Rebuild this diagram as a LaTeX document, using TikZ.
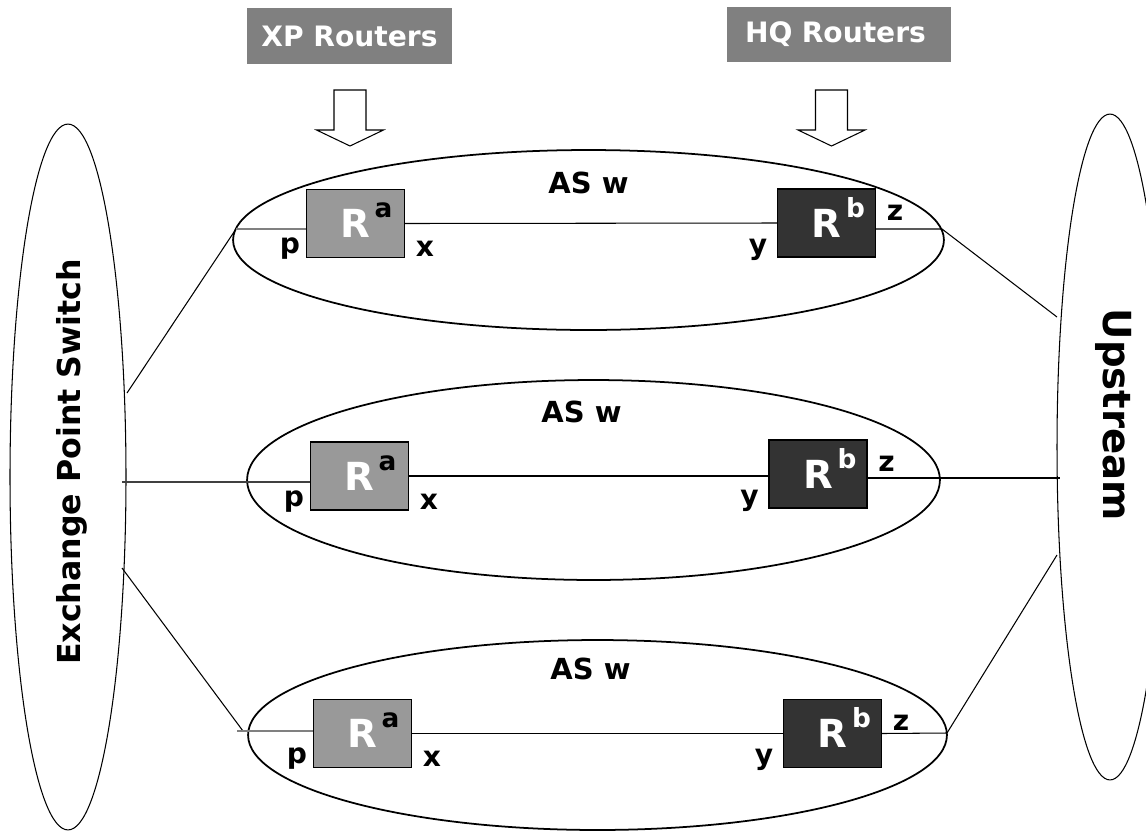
\documentclass[tikz,border=0pt]{standalone}
\usepackage{fontspec}
\setmainfont{DejaVu Sans}
\usepackage{xcolor}
\usepackage{tikz}
\usetikzlibrary{positioning, calc, shapes.geometric}

\definecolor{titlegray}{HTML}{808080}
\definecolor{ragray}{HTML}{999999}
\definecolor{rbgray}{HTML}{333333}

\tikzset{
  titlebox/.style={fill=titlegray, text=white, font=\fontsize{16}{16}\selectfont\bfseries,
    minimum height=1.12cm, inner sep=0pt},
  asell/.style={draw, line width=1pt, ellipse, inner sep=0pt},
  sideell/.style={draw, semithick, ellipse, inner sep=0pt},
  rabox/.style={draw, semithick, fill=ragray, text=white, minimum width=1.96cm,
    minimum height=1.36cm, inner sep=0pt, font=\fontsize{22}{22}\selectfont\bfseries},
  rbbox/.style={rabox, fill=rbgray},
  sup/.style={anchor=base, inner sep=0pt, font=\fontsize{15}{15}\selectfont\bfseries},
  port/.style={inner sep=0pt, font=\fontsize{16}{16}\selectfont\bfseries},
  aslabel/.style={inner sep=0pt, font=\fontsize{16.5}{16.5}\selectfont\bfseries},
  sidelabel/.style={inner sep=0pt, font=\fontsize{18}{18}\selectfont\bfseries},
  link/.style={draw, line width=0.6pt},
  plink/.style={draw=titlegray, line width=0.8pt}
}

\begin{document}
\begin{tikzpicture}[x=0.02cm, y=-0.02cm]
  \useasboundingbox (0,0) rectangle (1146,839);
  \clip (0,0) rectangle (1146,839);

  % router group titles and their arrows
  \node[titlebox, minimum width=4.1cm] (xp) at (349.5,36) {XP Routers};
  \node[titlebox, text width=3.76cm, align=left, inner xsep=0.36cm]
    (hq) at (839,34.5) {HQ Routers};
  \foreach \ax in {350,831.5}
    \draw[fill=white, line width=0.6pt] (\ax-16,90) -- (\ax+16,90) -- (\ax+16,130)
      -- (\ax+33.5,130) -- (\ax,146) -- (\ax-33.5,130) -- (\ax-16,130) -- cycle;

  % exchange point and upstream
  \node[sideell, minimum width=2.32cm, minimum height=14.12cm] (xps) at (68,477) {};
  \node[sidelabel, rotate=90] (xpstext) at (72,462) {Exchange Point Switch};
  \node[sideell, minimum width=2.12cm, minimum height=13.32cm] (ups) at (1110,447) {};
  \node[sidelabel, rotate=-90, font=\fontsize{22}{22}\selectfont\bfseries] (upstext)
    at (1114,415) {Upstream};

  % the three AS ellipses
  \node[asell, minimum width=14.22cm, minimum height=3.6cm] (as1) at (588.5,240) {};
  \node[asell, minimum width=13.86cm, minimum height=4.0cm] (as2) at (593.5,480) {};
  \node[asell, minimum width=13.98cm, minimum height=3.8cm] (as3) at (597.5,735) {};
  \node[aslabel, below=0.44cm of as1.north] (asw1) {AS w};
  \node[aslabel, below=0.42cm of as2.north, xshift=-0.24cm] (asw2) {AS w};
  \node[aslabel, below=0.36cm of as3.north, xshift=-0.14cm] (asw3) {AS w};

  % routers
  \node[rabox] (ra1) at (355.5,223.5) {R};
  \node[rbbox] (rb1) at (826.5,223) {R};
  \node[rabox] (ra2) at (359.5,476) {R};
  \node[rbbox] (rb2) at (818,474) {R};
  \node[rabox] (ra3) at (362.5,733.5) {R};
  \node[rbbox] (rb3) at (832.5,733.5) {R};
  \foreach \r in {1,2,3} {
    \node[sup] at ($(ra\r)+(28,-6)$) {a};
    \node[sup, text=white] at ($(rb\r)+(29,-6)$) {b};
    \node[port] at ($(ra\r.south west)+(-16,-9)$) {p};
    \node[port] at ($(ra\r.south east)+(20,-9)$) {x};
    \node[port] at ($(rb\r.south west)+(-19,-8)$) {y};
    \node[port] at ($(rb\r.north east)+(19,24)$) {z};
  }

  % top row links
  \coordinate (xa1) at (127,393);
  \coordinate (pa1) at (236,229);
  \coordinate (za1) at (942,229);
  \coordinate (ua1) at (1057,317);
  \draw[link] (xa1) -- (pa1);
  \draw[plink] (pa1) -- (ra1.west |- pa1);
  \draw[link] (ra1.east) -- (rb1.west);
  \draw[link] (rb1.east |- za1) -- (za1) -- (ua1);

  % middle row links
  \coordinate (xa2) at (122,482);
  \coordinate (ua2) at (1060,478);
  \draw[link, draw=black!75] (xa2) -- (ra2.west |- xa2);
  \draw[link] (ra2.east) -- (rb2.west |- ra2.east);
  \draw[link] (rb2.east |- ua2) -- (ua2);

  % bottom row links
  \coordinate (xa3) at (122,568);
  \coordinate (pa3) at (243,731);
  \coordinate (za3) at (947,733);
  \coordinate (ua3) at (1057,555);
  \draw[link] (xa3) -- (pa3);
  \draw[plink] ($(pa3)+(-6,0)$) -- (ra3.west |- pa3);
  \draw[link] (ra3.east) -- (rb3.west);
  \draw[link] (rb3.east) -- (za3) -- (ua3);
\end{tikzpicture}
\end{document}
